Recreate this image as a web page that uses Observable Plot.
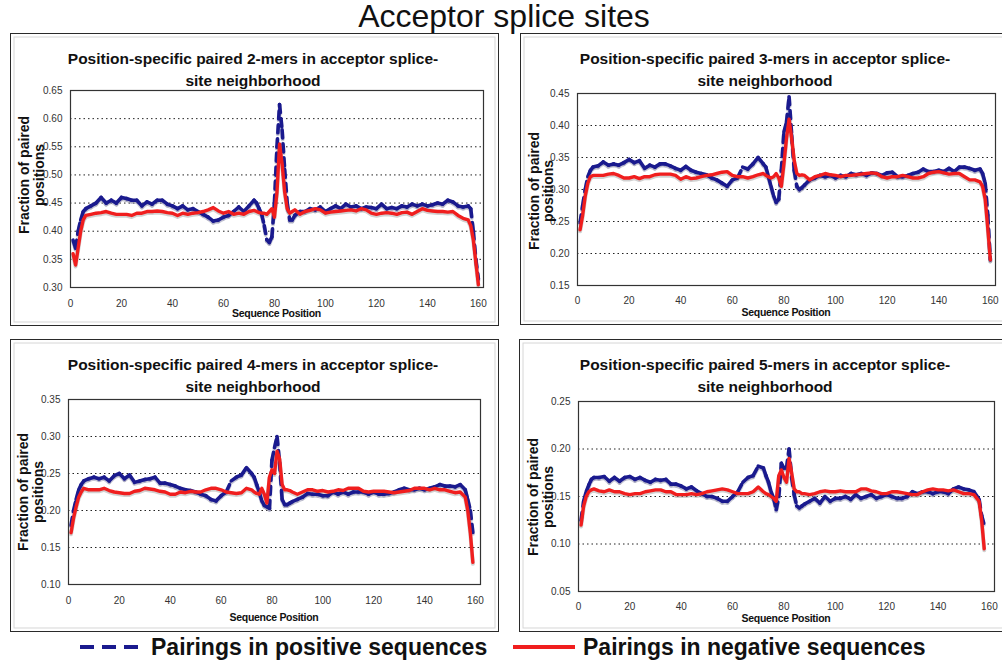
<!DOCTYPE html>
<html><head><meta charset="utf-8">
<script src="https://cdn.jsdelivr.net/npm/d3@7"></script>
<script src="https://cdn.jsdelivr.net/npm/@observablehq/plot@0.6"></script>
<style>
html,body{margin:0;padding:0;background:#fff}
body{width:1002px;height:661px;overflow:hidden;position:relative;font-family:"Liberation Sans",Arial,Helvetica,sans-serif;color:#111}
.box{position:absolute;box-sizing:border-box;border:1.5px solid #2a2a2a;box-shadow:inset 0 0 0 2.5px #fff, inset 0 0 0 3.5px #d6d6d6}
.t{position:absolute;line-height:1;white-space:nowrap;transform:translate(-50%,-50%)}
.ttl{font-weight:bold;font-size:15.5px}
.yl{font-weight:bold;font-size:14px;transform:translate(-50%,-50%) rotate(-90deg)}
.xl{font-weight:bold;font-size:10.5px;letter-spacing:-0.3px}
.plot{position:absolute}
.main{font-size:32px}
.leg{position:absolute;line-height:1;white-space:nowrap;font-weight:bold;font-size:23px;transform:translateY(-50%)}
</style></head>
<body>
<script>
// ---------- data ----------
const positions = [1,2,3,4,5,6,
  8,10,12,14,16,18,20,22,24,26,28,30,32,34,36,38,40,42,44,46,48,50,52,54,56,58,60,62,64,66,68,70,72,
  73,74,75,76,77,78,79,80,81,82,83,84,85,86,87,88,
  90,92,94,96,98,100,102,104,106,108,110,112,114,116,118,120,122,124,126,128,130,132,134,136,138,140,142,144,146,148,150,152,154,156,
  157,158,159,160];

const xTicks = [0,20,40,60,80,100,120,140,160];
const yTicks2 = [0.30,0.35,0.40,0.45,0.50,0.55,0.60,0.65];
const yTicks3 = [0.15,0.20,0.25,0.30,0.35,0.40,0.45];
const yTicks4 = [0.10,0.15,0.20,0.25,0.30,0.35];
const yTicks5 = [0.05,0.10,0.15,0.20,0.25];

const pos2mer = [.384,.37,.40,.42,.435,.44,
  .445,.45,.46,.45,.455,.45,.46,.458,.455,.455, .445,.452,.448,.455,.455,.448,.445,.44,.445,.438, .44,.435,.43,.425,.418,.42,.425,.428,.435,.443, .435,.445,.455,
  .45,.44,.43,.41,.385,.38,.39,.45,.55,.625,.58,.51,.45,.42,.42,.428,
  .435,.435,.44,.438,.443,.435,.44,.445,.44,.448, .443,.445,.44,.443,.442,.44,.448,.44,.442,.44, .445,.443,.448,.445,.448,.445,.447,.45,.448,.455, .452,.445,.443,.445,
  .44,.40,.35,.315];
const neg2mer = [.36,.34,.37,.40,.42,.428,
  .43,.432,.433,.435,.432,.43,.43,.43,.428,.432, .432,.435,.435,.436,.435,.433,.432,.428,.432,.43, .432,.433,.435,.438,.442,.436,.432,.435,.43,.432, .43,.435,.437,
  .435,.433,.432,.432,.43,.435,.44,.425,.47,.555,.52,.47,.44,.432,.435,.438,
  .43,.435,.437,.44,.438,.432,.434,.435,.436,.437, .438,.436,.44,.438,.432,.43,.432,.433,.432,.43, .433,.434,.43,.435,.44,.437,.436,.435,.435,.434, .435,.428,.423,.42,
  .41,.385,.345,.305];

const pos3mer = [.248,.275,.30,.32,.33,.335,
  .337,.343,.338,.34,.338,.342,.347,.342,.345,.333, .338,.335,.34,.34,.337,.333,.33,.336,.33,.327, .325,.323,.318,.315,.31,.305,.315,.318,.335,.332, .34,.35,.34,
  .335,.32,.305,.29,.28,.285,.33,.39,.405,.445,.385,.33,.305,.30,.303,.307,
  .315,.318,.322,.32,.322,.318,.322,.32,.325,.323, .325,.322,.326,.325,.322,.326,.327,.32,.32,.322, .325,.327,.332,.328,.328,.33,.328,.333,.328,.335, .335,.333,.33,.332,
  .325,.31,.26,.19];
const neg3mer = [.237,.26,.29,.31,.32,.322,
  .322,.322,.324,.325,.322,.318,.318,.32,.317,.32, .32,.323,.324,.324,.324,.322,.316,.32,.317,.318, .32,.322,.323,.325,.327,.328,.322,.32,.32,.318, .32,.323,.325,
  .322,.32,.318,.32,.325,.318,.305,.34,.38,.41,.38,.345,.325,.322,.323,.322,
  .315,.32,.322,.325,.323,.322,.32,.322,.322,.323, .324,.325,.326,.325,.32,.318,.32,.32,.322,.32, .318,.318,.32,.325,.327,.328,.326,.324,.325,.325, .32,.315,.315,.312,
  .305,.285,.24,.19];

const pos4mer = [.18,.20,.215,.228,.235,.24,
  .243,.245,.243,.245,.24,.247,.25,.243,.248,.238, .24,.242,.243,.245,.237,.237,.235,.233,.23,.228, .227,.225,.222,.22,.215,.213,.22,.225,.24,.245, .248,.258,.25,
  .245,.235,.225,.213,.207,.205,.203,.268,.285,.30,.265,.215,.208,.208,.21,.212,
  .215,.218,.223,.222,.222,.22,.22,.225,.222,.225, .222,.225,.225,.225,.222,.225,.222,.222,.223,.225, .228,.23,.228,.228,.23,.228,.23,.232,.235,.233, .233,.232,.235,.228,
  .215,.20,.17,null];
const neg4mer = [.17,.19,.205,.218,.225,.23,
  .228,.228,.228,.23,.227,.225,.224,.223,.223,.226, .227,.23,.229,.228,.226,.225,.222,.222,.225,.224, .226,.225,.225,.228,.23,.23,.228,.225,.224,.223, .224,.23,.228,
  .225,.223,.222,.23,.222,.21,.245,.255,.25,.28,.27,.235,.228,.228,.227,.225,
  .222,.225,.228,.228,.226,.227,.225,.226,.228,.227, .23,.23,.23,.226,.225,.226,.226,.226,.225,.224, .225,.226,.227,.23,.23,.23,.228,.23,.228,.228, .226,.224,.225,.218,
  .20,.17,.13,null];

const pos5mer = [.125,.145,.155,.162,.168,.17,
  .17,.171,.166,.17,.166,.17,.171,.168,.17,.167, .165,.168,.167,.168,.163,.163,.161,.158,.16,.156, .153,.15,.15,.148,.145,.145,.15,.155,.165,.17, .172,.182,.18,
  .172,.165,.155,.148,.136,.15,.185,.18,.18,.2,.17,.152,.14,.138,.14,.142,
  .145,.148,.143,.15,.145,.148,.148,.15,.147,.152, .148,.15,.152,.148,.15,.152,.15,.148,.148,.15, .155,.153,.155,.155,.153,.155,.155,.153,.158,.16, .158,.157,.155,.147,
  .13,.12,null,null];
const neg5mer = [.12,.14,.15,.155,.157,.158,
  .156,.155,.157,.155,.155,.153,.152,.153,.153,.155, .156,.157,.157,.155,.155,.152,.152,.152,.153,.152, .153,.155,.156,.157,.158,.157,.155,.153,.153,.153, .155,.16,.155,
  .153,.152,.15,.148,.145,.172,.178,.17,.165,.19,.175,.158,.155,.155,.153,.153,
  .152,.153,.155,.156,.155,.155,.156,.155,.155,.155, .158,.158,.156,.155,.153,.153,.155,.155,.154,.153, .152,.152,.155,.157,.158,.157,.157,.156,.157,.155, .153,.153,.152,.145,
  .125,.095,null,null];

const kmerLabels = ["2-mers","3-mers","4-mers","5-mers"];
const titleText = "Acceptor splice sites";
const legendText = ["Pairings in positive sequences","Pairings in negative sequences"];

// ---------- layout ----------
const BLUE = "#1a1a8e", RED = "#f01e1e";
const panels = [
  {k:0, pos:pos2mer, neg:neg2mer, yTicks:yTicks2, L:70, R:483, T:90, B:287, box:[10,33,489,293], tx:253, ty:59, xlY:313, ylY:175, ylX:[24,39], pad:12},
  {k:1, pos:pos3mer, neg:neg3mer, yTicks:yTicks3, L:577, R:995, T:93, B:285, box:[520,33,495,292], tx:765, ty:59, xlY:312, ylY:191, ylX:[534,548], pad:11},
  {k:2, pos:pos4mer, neg:neg4mer, yTicks:yTicks4, L:68, R:480, T:399, B:584, box:[10,339,489,293], tx:253, ty:365, xlY:617, ylY:492, ylX:[23,38], pad:12},
  {k:3, pos:pos5mer, neg:neg5mer, yTicks:yTicks5, L:578, R:994, T:401, B:591, box:[519,339,495,293], tx:765, ty:365, xlY:618, ylY:497, ylX:[533,548], pad:11}
];

function el(tag, cls, style, text){
  const e = document.createElement(tag);
  if (cls) e.className = cls;
  Object.assign(e.style, style);
  if (text != null) e.textContent = text;
  document.body.appendChild(e);
  return e;
}

el("div","t main",{left:"504px",top:"16px"},titleText);

for (const p of panels){
  if (p.pos.length !== positions.length || p.neg.length !== positions.length)
    throw new Error("length mismatch panel "+p.k+": "+p.pos.length+" / "+p.neg.length+" vs "+positions.length);
  const [bl,bt,bw,bh] = p.box;
  el("div","box",{left:bl+"px",top:bt+"px",width:bw+"px",height:bh+"px"});
  el("div","t ttl",{left:p.tx+"px",top:p.ty+"px"},"Position-specific paired "+kmerLabels[p.k]+" in acceptor splice-");
  el("div","t ttl",{left:p.tx+"px",top:(p.ty+22)+"px"},"site neighborhood");

  const negData = positions.map((x,i)=>({x, v:p.neg[i]})).filter(d=>d.v!=null);
  const segs = [];
  for (let i=0;i<positions.length-1;i++){
    if (p.pos[i]!=null && p.pos[i+1]!=null)
      segs.push({x1:positions[i], y1:p.pos[i], x2:positions[i+1], y2:p.pos[i+1]});
  }
  const mL=48, mR=12, mT=12, mB=26;
  const yt = p.yTicks;
  const chart = Plot.plot({
    width:(p.R-p.L)+mL+mR, height:(p.B-p.T)+mT+mB,
    marginLeft:mL, marginRight:mR, marginTop:mT, marginBottom:mB,
    x:{domain:[0,162]},
    y:{domain:[yt[0], yt[yt.length-1]]},
    style:{fontFamily:"'Liberation Sans', Arial, sans-serif", fontSize:"10px", color:"#333", background:"transparent", overflow:"visible"},
    marks:[
      Plot.ruleY(yt.slice(1,-1), {stroke:"#222", strokeWidth:1, strokeDasharray:"1.5,3"}),
      Plot.axisY({ticks:yt, tickSize:0, tickPadding:8, tickFormat:d3.format(".2f"), label:null}),
      Plot.axisX({ticks:xTicks, tickSize:0, tickPadding:p.pad, tickFormat:d=>String(d), label:null}),
      // shadows
      Plot.link(segs, {x1:"x1",y1:"y1",x2:"x2",y2:"y2", stroke:"#8a8aa8", strokeOpacity:0.45, strokeWidth:4, strokeDasharray:"8,6", strokeLinecap:"round", dy:1.5}),
      Plot.line(negData, {x:"x", y:"v", stroke:"#999", strokeOpacity:0.45, strokeWidth:4, dy:1.5}),
      // positive (dashed per segment, as in the original)
      Plot.link(segs, {x1:"x1",y1:"y1",x2:"x2",y2:"y2", stroke:BLUE, strokeWidth:3.6, strokeDasharray:"8,6", strokeLinecap:"round"}),
      // negative
      Plot.line(negData, {x:"x", y:"v", stroke:RED, strokeWidth:3.4, strokeLinejoin:"round"}),
      Plot.frame({stroke:"#333", strokeWidth:1.2})
    ]
  });
  chart.classList.add("plot");
  chart.style.left = (p.L-mL)+"px";
  chart.style.top = (p.T-mT)+"px";
  document.body.appendChild(chart);

  el("div","t yl",{left:p.ylX[0]+"px",top:p.ylY+"px"},"Fraction of paired");
  el("div","t yl",{left:p.ylX[1]+"px",top:p.ylY+"px"},"positions");
  el("div","t xl",{left:((p.L+p.R)/2)+"px",top:p.xlY+"px"},"Sequence Position");
}

// legend
const lg = document.createElementNS("http://www.w3.org/2000/svg","svg");
lg.setAttribute("width","1002"); lg.setAttribute("height","20");
lg.style.position="absolute"; lg.style.left="0px"; lg.style.top="637px";
lg.innerHTML = `<line x1="80" y1="10" x2="144" y2="10" stroke="${BLUE}" stroke-width="4" stroke-dasharray="14,8"/>
<line x1="513" y1="10" x2="575" y2="10" stroke="${RED}" stroke-width="4"/>`;
document.body.appendChild(lg);
el("div","leg",{left:"151px",top:"647px"},legendText[0]);
el("div","leg",{left:"583px",top:"647px"},legendText[1]);
</script>
</body></html>
